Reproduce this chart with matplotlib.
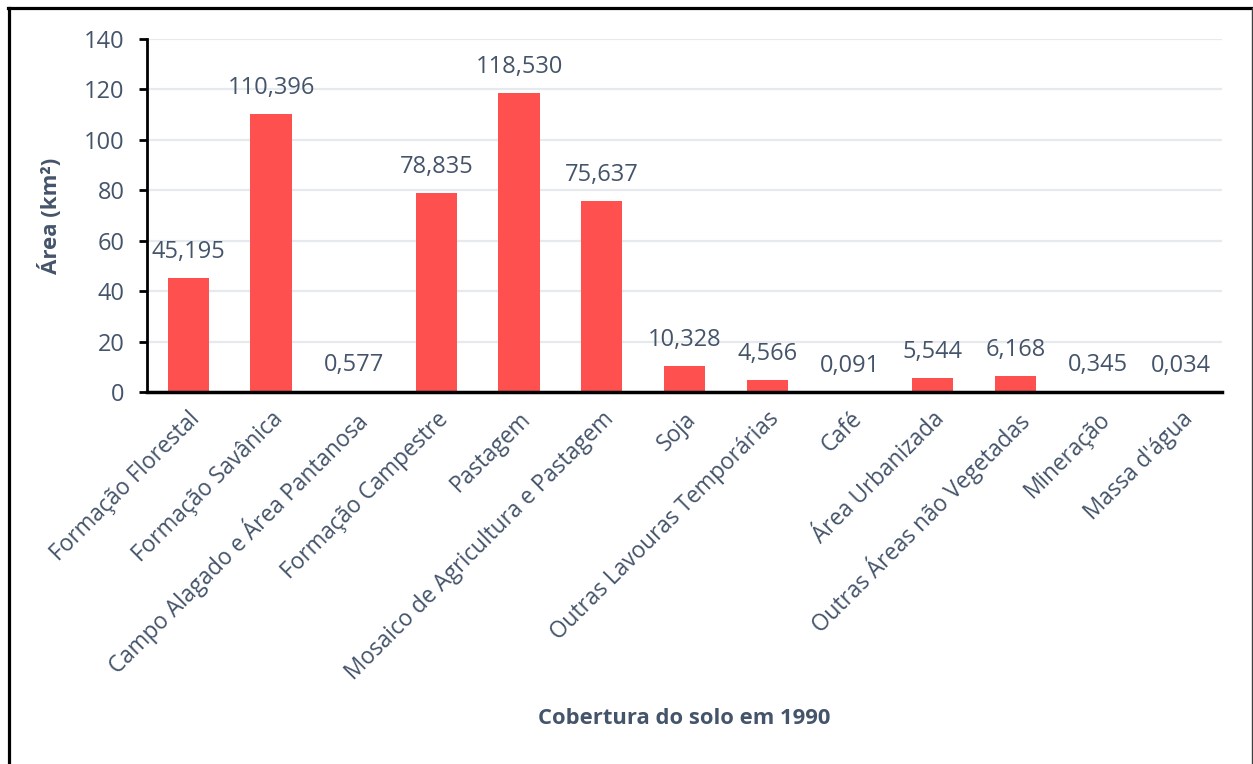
import matplotlib
matplotlib.use("Agg")
import matplotlib.pyplot as plt
from matplotlib.lines import Line2D

categories = [
    "Formação Florestal",
    "Formação Savânica",
    "Campo Alagado e Área Pantanosa",
    "Formação Campestre",
    "Pastagem",
    "Mosaico de Agricultura e Pastagem",
    "Soja",
    "Outras Lavouras Temporárias",
    "Café",
    "Área Urbanizada",
    "Outras Áreas não Vegetadas",
    "Mineração",
    "Massa d'água",
]
areas = [45.195, 110.396, 0.577, 78.835, 118.530, 75.637, 10.328,
         4.566, 0.091, 5.544, 6.168, 0.345, 0.034]
y_ticks = [0, 20, 40, 60, 80, 100, 120, 140]

TEXT = "#44546A"
BAR = "#FF5050"
GRID = "#E6EAEF"

plt.rcParams["font.family"] = ["Open Sans", "DejaVu Sans"]

W, H = 1253, 764
fig = plt.figure(figsize=(W / 100, H / 100), dpi=100)
fig.patch.set_facecolor("white")

ax = fig.add_axes([147 / W, 1 - 392 / H, (1222 - 147) / W, (392 - 39) / H])

x = list(range(len(categories)))
ax.bar(x, areas, width=0.5, color=BAR, zorder=3)

ax.set_xlim(-0.5, len(categories) - 0.5)
ax.set_ylim(0, 140)
ax.set_yticks(y_ticks)
ax.set_yticklabels([str(v) for v in y_ticks], fontsize=17, color=TEXT)
ax.yaxis.grid(True, color=GRID, linewidth=1.6, zorder=0)
ax.set_axisbelow(True)

ax.set_xticks(x)
ax.set_xticklabels(categories, rotation=45, ha="right", rotation_mode="anchor",
                   fontsize=16.3, color=TEXT)
ax.tick_params(axis="x", length=0, pad=11)
ax.tick_params(axis="y", length=6, width=2, color="black", pad=10)

for side in ("top", "right"):
    ax.spines[side].set_visible(False)
ax.spines["left"].set_linewidth(2)
ax.spines["bottom"].set_linewidth(2.5)
ax.spines["left"].set_color("black")
ax.spines["bottom"].set_color("black")
ax.spines["bottom"].set_zorder(4)

for xi, v in zip(x, areas):
    label = f"{v:.3f}".replace(".", ",")
    ax.annotate(label, (xi, v), xytext=(0, 20), textcoords="offset pixels",
                ha="center", va="baseline", fontsize=17, color=TEXT)

ax.set_ylabel("Área (km²)", fontsize=16, fontweight="bold", color=TEXT)
ax.yaxis.set_label_coords((62 - 147) / (1222 - 147), 0.5)
fig.text(684 / W, 1 - 718 / H, "Cobertura do solo em 1990", ha="center",
         va="center", fontsize=15.8, fontweight="bold", color=TEXT)

# outer frame
fig.add_artist(Line2D([9 / W, 9 / W], [0, 1 - 7.5 / H], transform=fig.transFigure,
                      color="black", linewidth=2.3))
fig.add_artist(Line2D([8 / W, 1252 / W], [1 - 8 / H, 1 - 8 / H],
                      transform=fig.transFigure, color="black", linewidth=2.3))
fig.add_artist(Line2D([1251.5 / W, 1251.5 / W], [0, 1 - 8 / H],
                      transform=fig.transFigure, color="#404040", linewidth=1))

fig.savefig("out.png", dpi=100)
